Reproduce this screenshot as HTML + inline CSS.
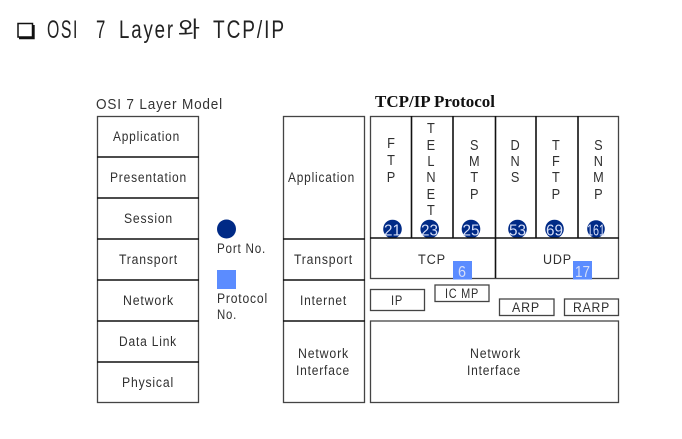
<!DOCTYPE html>
<html><head><meta charset="utf-8">
<style>
html,body{margin:0;padding:0;background:#fff}
svg{display:block}
text{font-family:"Liberation Sans","Noto Sans CJK KR",sans-serif;font-size:13.5px;fill:#303030;text-anchor:start;letter-spacing:.9px}
.c{text-anchor:middle;letter-spacing:0;font-size:15px}
.b{fill:none;stroke:#444;stroke-width:1.3}
.k{stroke:#111;stroke-width:1.6;fill:none}
.g{stroke:#444;stroke-width:1.3;fill:#fff}
.w{fill:#d5def8;font-size:15.5px;letter-spacing:0}
.t{font-size:25px;fill:#222;letter-spacing:2.5px}
</style></head><body>
<svg width="682" height="439" viewBox="0 0 682 439" xmlns="http://www.w3.org/2000/svg">
<rect width="682" height="439" fill="#fff"/>
<!-- title -->
<rect x="18" y="23.500" width="14.500" height="13.500" fill="#fff" stroke="#111" stroke-width="1.500"/>
<path d="M19 38H33.500V25" fill="none" stroke="#111" stroke-width="2.400"/>
<text class="t" x="47" y="38" textLength="32" lengthAdjust="spacingAndGlyphs">OSI</text>
<text class="t" x="96" y="38" textLength="11" lengthAdjust="spacingAndGlyphs">7</text>
<text class="t" x="119" y="38" textLength="56" lengthAdjust="spacingAndGlyphs">Layer</text>
<text x="178" y="37" textLength="22" lengthAdjust="spacingAndGlyphs" style="font-size:22px;fill:#222;letter-spacing:0;font-family:'Noto Sans CJK KR',sans-serif">와</text>
<text class="t" x="213" y="38" textLength="73" lengthAdjust="spacingAndGlyphs">TCP/IP</text>
<text x="96" y="109" textLength="127" lengthAdjust="spacingAndGlyphs" style="font-size:15px;fill:#333">OSI 7 Layer Model</text>
<text x="375" y="107" textLength="120" lengthAdjust="spacingAndGlyphs" style="font-family:'Liberation Serif',serif;font-size:17px;font-weight:bold;fill:#111;letter-spacing:0">TCP/IP Protocol</text>
<!-- left stack -->
<rect class="b" x="97.500" y="116.500" width="101" height="286"/>
<path class="k" d="M97 157H199M97 198H199M97 239H199M97 280H199M97 321H199M97 362H199"/>
<text x="113" y="141" textLength="67" lengthAdjust="spacingAndGlyphs">Application</text>
<text x="110" y="182" textLength="77" lengthAdjust="spacingAndGlyphs">Presentation</text>
<text x="124" y="223" textLength="49" lengthAdjust="spacingAndGlyphs">Session</text>
<text x="119" y="264" textLength="59" lengthAdjust="spacingAndGlyphs">Transport</text>
<text x="123" y="305" textLength="51" lengthAdjust="spacingAndGlyphs">Network</text>
<text x="119" y="346" textLength="58" lengthAdjust="spacingAndGlyphs">Data Link</text>
<text x="122" y="387" textLength="52" lengthAdjust="spacingAndGlyphs">Physical</text>
<!-- legend -->
<circle cx="226.500" cy="229" r="9.500" fill="#002a86"/>
<text x="217" y="253" textLength="49" lengthAdjust="spacingAndGlyphs">Port No.</text>
<rect x="217" y="270" width="19" height="19" fill="#5b8cff"/>
<text x="217" y="303" textLength="51" lengthAdjust="spacingAndGlyphs">Protocol</text>
<text x="217" y="319" textLength="20" lengthAdjust="spacingAndGlyphs">No.</text>
<!-- middle stack -->
<rect class="b" x="283.500" y="116.500" width="81" height="286"/>
<path class="k" d="M283 239H365M283 280H365M283 321H365"/>
<text x="288" y="182" textLength="67" lengthAdjust="spacingAndGlyphs">Application</text>
<text x="294" y="264" textLength="59" lengthAdjust="spacingAndGlyphs">Transport</text>
<text x="300" y="305" textLength="47" lengthAdjust="spacingAndGlyphs">Internet</text>
<text x="298" y="358" textLength="51" lengthAdjust="spacingAndGlyphs">Network</text>
<text x="296" y="375" textLength="54" lengthAdjust="spacingAndGlyphs">Interface</text>
<!-- app protocols letters -->
<g transform="scale(.85 1)">
<text class="c" x="460" y="148">F</text><text class="c" x="460" y="165">T</text><text class="c" x="460" y="182">P</text>
<text class="c" x="507" y="133">T</text><text class="c" x="507" y="150">E</text><text class="c" x="507" y="166">L</text><text class="c" x="507" y="182">N</text><text class="c" x="507" y="199">E</text><text class="c" x="507" y="215">T</text>
<text class="c" x="558" y="150">S</text><text class="c" x="558" y="166">M</text><text class="c" x="558" y="182">T</text><text class="c" x="558" y="199">P</text>
<text class="c" x="606" y="150">D</text><text class="c" x="606" y="166">N</text><text class="c" x="606" y="182">S</text>
<text class="c" x="654" y="150">T</text><text class="c" x="654" y="166">F</text><text class="c" x="654" y="182">T</text><text class="c" x="654" y="199">P</text>
<text class="c" x="704" y="150">S</text><text class="c" x="704" y="166">N</text><text class="c" x="704" y="182">M</text><text class="c" x="704" y="199">P</text>
</g>
<g fill="#002a86">
<circle cx="392.500" cy="229" r="9.300"/><circle cx="429.700" cy="229" r="9.300"/><circle cx="471" cy="229" r="9.300"/>
<circle cx="517.500" cy="229" r="9.300"/><circle cx="554.500" cy="229" r="9.300"/><circle cx="596" cy="229" r="8.800"/>
</g>
<text class="w" x="384" y="235.500" textLength="17" lengthAdjust="spacingAndGlyphs">21</text>
<text class="w" x="421" y="235.500" textLength="17" lengthAdjust="spacingAndGlyphs">23</text>
<text class="w" x="462.500" y="235.500" textLength="17" lengthAdjust="spacingAndGlyphs">25</text>
<text class="w" x="509" y="235.500" textLength="17" lengthAdjust="spacingAndGlyphs">53</text>
<text class="w" x="546" y="235.500" textLength="17" lengthAdjust="spacingAndGlyphs">69</text>
<text class="w" x="587" y="235.500" textLength="18" lengthAdjust="spacingAndGlyphs">161</text>
<!-- block outlines -->
<rect class="b" x="370.500" y="116.500" width="248" height="162"/>
<path class="k" d="M411.500 116V238M453 116V238M495.500 116V278M536 116V238M578 116V238M370 238H619"/>
<!-- TCP/UDP -->
<text x="418" y="264" textLength="28" lengthAdjust="spacingAndGlyphs">TCP</text>
<text x="543" y="264" textLength="29" lengthAdjust="spacingAndGlyphs">UDP</text>
<rect x="453" y="261" width="19" height="18.500" fill="#5b8cff"/>
<rect x="573" y="261" width="19" height="18.500" fill="#5b8cff"/>
<text class="w" x="458" y="277" textLength="8" lengthAdjust="spacingAndGlyphs">6</text>
<text class="w" x="575" y="277" textLength="15" lengthAdjust="spacingAndGlyphs">17</text>
<!-- internet -->
<rect class="g" x="370.500" y="289.500" width="54" height="21"/>
<rect class="g" x="435" y="285" width="54" height="16.500"/>
<rect class="g" x="499.500" y="299" width="54.500" height="16.500"/>
<rect class="g" x="564.500" y="299" width="54" height="16.500"/>
<text x="391" y="305" textLength="12" lengthAdjust="spacingAndGlyphs">IP</text>
<text x="445" y="298" textLength="34" lengthAdjust="spacingAndGlyphs">IC MP</text>
<text x="512" y="312" textLength="28" lengthAdjust="spacingAndGlyphs">ARP</text>
<text x="573" y="312" textLength="37" lengthAdjust="spacingAndGlyphs">RARP</text>
<!-- net if -->
<rect class="g" x="370.500" y="321" width="248" height="81.500"/>
<text x="470" y="358" textLength="51" lengthAdjust="spacingAndGlyphs">Network</text>
<text x="467" y="375" textLength="54" lengthAdjust="spacingAndGlyphs">Interface</text>
</svg>
</body></html>
